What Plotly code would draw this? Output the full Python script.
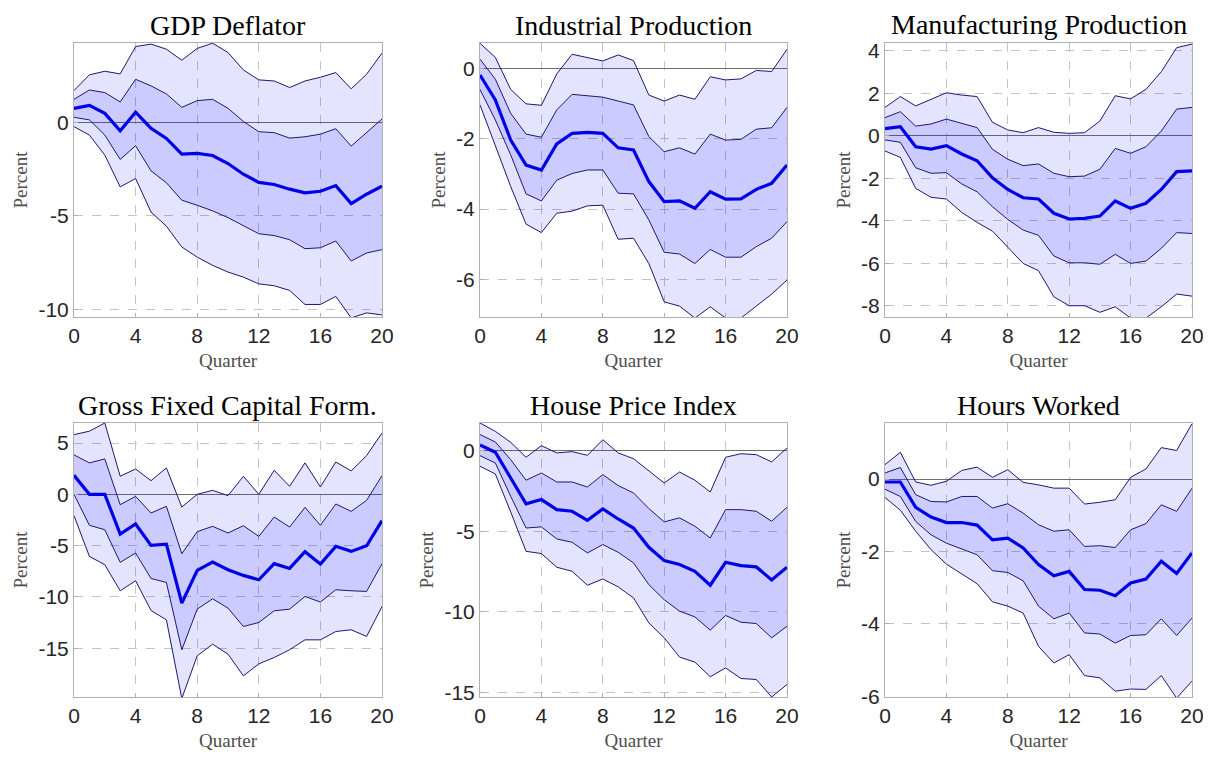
import plotly.graph_objects as go
from plotly.subplots import make_subplots

QUARTERS = list(range(21))

# GDP Deflator
gdp_hi90 = [1.70, 2.54, 2.73, 2.59, 4.05, 4.18, 3.91, 3.32, 3.95, 4.23, 3.73, 2.80, 2.27, 2.21, 1.86, 2.21, 2.41, 2.66, 1.79, 2.57, 3.70]
gdp_hi68 = [1.23, 1.73, 1.59, 1.09, 2.30, 1.95, 1.52, 0.80, 1.16, 1.23, 0.75, 0.05, -0.50, -0.55, -0.84, -0.77, -0.63, -0.34, -1.27, -0.55, 0.18]
gdp_med = [0.75, 0.91, 0.48, -0.45, 0.54, -0.32, -0.86, -1.70, -1.66, -1.77, -2.20, -2.77, -3.21, -3.32, -3.57, -3.77, -3.68, -3.38, -4.34, -3.84, -3.41]
gdp_lo68 = [0.27, 0.13, -0.68, -1.98, -1.25, -2.59, -3.23, -4.16, -4.43, -4.73, -5.09, -5.52, -5.95, -6.05, -6.27, -6.75, -6.70, -6.34, -7.41, -6.98, -6.80]
gdp_lo90 = [-0.23, -0.68, -1.75, -3.45, -3.00, -4.79, -5.55, -6.66, -7.20, -7.64, -8.00, -8.27, -8.63, -8.73, -8.98, -9.73, -9.73, -9.30, -10.45, -10.18, -10.29]

# Industrial Production
ip_hi90 = [0.71, 0.31, -0.60, -1.01, -1.05, -0.16, 0.40, 0.30, 0.21, 0.38, 0.22, -0.76, -0.93, -0.76, -0.88, -0.24, -0.33, -0.30, -0.06, -0.09, 0.54]
ip_hi68 = [0.26, -0.31, -1.28, -1.87, -1.96, -1.18, -0.74, -0.78, -0.82, -0.93, -1.04, -1.94, -2.37, -2.26, -2.44, -1.87, -2.04, -2.02, -1.73, -1.69, -1.11]
ip_med = [-0.19, -0.90, -2.04, -2.75, -2.89, -2.15, -1.85, -1.82, -1.85, -2.26, -2.32, -3.22, -3.79, -3.77, -3.98, -3.51, -3.72, -3.71, -3.44, -3.27, -2.75]
ip_lo68 = [-0.60, -1.47, -2.46, -3.57, -3.77, -3.18, -2.99, -2.89, -2.89, -3.55, -3.57, -4.31, -5.23, -5.28, -5.55, -5.15, -5.37, -5.37, -5.07, -4.83, -4.36]
ip_lo90 = [-1.04, -2.23, -3.36, -4.43, -4.67, -4.12, -4.06, -3.91, -3.89, -4.86, -4.83, -5.55, -6.64, -6.76, -7.10, -6.78, -7.10, -7.10, -6.76, -6.42, -6.02]

# Manufacturing Production
mp_hi90 = [1.33, 1.84, 1.40, 1.71, 2.02, 1.91, 1.84, 0.63, 0.27, 0.14, 0.38, 0.16, 0.11, 0.14, 0.69, 1.88, 1.73, 2.18, 3.01, 4.14, 4.31]
mp_hi68 = [0.85, 1.13, 0.45, 0.55, 0.78, 0.58, 0.38, -0.64, -1.11, -1.41, -1.33, -1.77, -1.93, -1.90, -1.58, -0.60, -0.83, -0.52, 0.22, 1.25, 1.33]
mp_med = [0.33, 0.42, -0.52, -0.63, -0.47, -0.86, -1.18, -1.98, -2.53, -2.92, -2.98, -3.65, -3.92, -3.89, -3.78, -3.07, -3.42, -3.18, -2.53, -1.69, -1.66]
mp_lo68 = [-0.20, -0.31, -1.51, -1.77, -1.74, -2.27, -2.64, -3.34, -3.94, -4.44, -4.69, -5.66, -5.98, -5.98, -6.05, -5.58, -6.01, -5.90, -5.30, -4.56, -4.60]
mp_lo90 = [-0.72, -1.02, -2.48, -2.90, -2.98, -3.61, -4.08, -4.49, -5.25, -6.01, -6.35, -7.58, -8.00, -8.00, -8.31, -8.05, -8.58, -8.58, -8.05, -7.45, -7.55]

# Gross Fixed Capital Formation
gf_hi90 = [5.82, 6.15, 6.95, 1.76, 2.47, 1.33, 2.57, -1.24, 0.00, 0.39, -0.13, 1.76, 0.00, 2.34, 0.78, 3.06, 0.72, 3.15, 2.28, 3.77, 5.98]
gf_hi68 = [3.84, 3.06, 3.45, -1.01, -0.20, -1.82, -1.17, -5.79, -3.64, -3.12, -3.77, -3.06, -4.10, -2.21, -3.19, -1.27, -3.02, -0.94, -1.66, -0.59, 1.82]
gf_med = [1.85, 0.00, 0.00, -3.87, -2.89, -4.98, -4.85, -10.60, -7.41, -6.60, -7.35, -7.90, -8.33, -6.76, -7.22, -5.59, -6.80, -5.07, -5.56, -5.01, -2.57]
gf_lo68 = [0.00, -3.02, -3.45, -6.63, -5.72, -8.20, -8.59, -15.15, -11.19, -10.18, -11.09, -12.88, -12.49, -11.35, -11.19, -9.95, -10.50, -9.30, -9.40, -9.46, -6.76]
gf_lo90 = [-2.08, -6.05, -6.86, -9.40, -8.42, -11.32, -12.23, -19.90, -15.74, -14.60, -15.58, -17.69, -16.52, -15.90, -15.15, -14.18, -14.18, -13.37, -13.20, -13.85, -10.93]

# House Price Index
hp_hi90 = [1.74, 1.22, 0.54, -0.39, 0.33, -0.12, -0.04, -0.27, 0.70, -0.12, -0.48, -1.26, -1.99, -1.31, -1.82, -2.55, -0.39, -0.17, -0.23, -0.68, 0.19]
hp_hi68 = [1.02, 0.56, -0.54, -1.82, -1.37, -1.93, -1.93, -2.24, -1.47, -2.15, -2.61, -3.58, -4.41, -4.16, -4.68, -5.41, -3.65, -3.65, -3.75, -4.37, -3.50]
hp_med = [0.37, -0.08, -1.68, -3.29, -3.02, -3.65, -3.75, -4.31, -3.60, -4.23, -4.79, -5.99, -6.82, -7.06, -7.48, -8.35, -6.92, -7.13, -7.21, -8.02, -7.23]
hp_lo68 = [-0.29, -0.75, -2.82, -4.79, -4.72, -5.47, -5.68, -6.34, -5.82, -6.30, -6.96, -8.31, -9.25, -9.96, -10.32, -11.14, -10.23, -10.65, -10.73, -11.62, -10.90]
hp_lo90 = [-0.95, -1.43, -3.79, -6.24, -6.38, -7.23, -7.48, -8.35, -7.96, -8.45, -9.14, -10.69, -11.62, -12.82, -13.13, -14.04, -13.49, -14.15, -14.21, -15.30, -14.52]

# Hours Worked
hw_hi90 = [0.40, 0.74, -0.08, -0.17, -0.06, 0.24, 0.33, 0.05, 0.26, -0.09, -0.16, -0.25, -0.25, -0.69, -0.64, -0.57, 0.05, 0.28, 0.87, 0.79, 1.53]
hw_hi68 = [0.17, 0.32, -0.43, -0.62, -0.63, -0.48, -0.48, -0.80, -0.68, -0.94, -1.26, -1.44, -1.40, -1.86, -1.84, -1.89, -1.40, -1.23, -0.71, -0.89, -0.25]
hw_med = [-0.08, -0.08, -0.78, -1.05, -1.20, -1.20, -1.27, -1.68, -1.63, -1.90, -2.36, -2.67, -2.55, -3.05, -3.07, -3.22, -2.87, -2.76, -2.27, -2.61, -2.04]
hw_lo68 = [-0.28, -0.48, -1.17, -1.54, -1.77, -1.93, -2.09, -2.53, -2.58, -2.81, -3.51, -3.86, -3.70, -4.25, -4.28, -4.53, -4.32, -4.30, -3.86, -4.32, -3.84]
hw_lo90 = [-0.51, -0.86, -1.44, -1.95, -2.35, -2.62, -2.89, -3.39, -3.51, -3.70, -4.62, -5.08, -4.85, -5.43, -5.49, -5.86, -5.80, -5.81, -5.43, -6.05, -5.58]

TITLES = ["GDP Deflator", "Industrial Production", "Manufacturing Production",
          "Gross Fixed Capital Form.", "House Price Index", "Hours Worked"]
BANDS = [
    (gdp_lo90, gdp_lo68, gdp_med, gdp_hi68, gdp_hi90),
    (ip_lo90, ip_lo68, ip_med, ip_hi68, ip_hi90),
    (mp_lo90, mp_lo68, mp_med, mp_hi68, mp_hi90),
    (gf_lo90, gf_lo68, gf_med, gf_hi68, gf_hi90),
    (hp_lo90, hp_lo68, hp_med, hp_hi68, hp_hi90),
    (hw_lo90, hw_lo68, hw_med, hw_hi68, hw_hi90),
]
Y_RANGES = [[-10.4, 4.24], [-7.07, 0.72], [-8.53, 4.36], [-19.75, 6.95], [-15.3, 1.74], [-6.02, 1.55]]
Y_TICKS = [[-10, -5, 0], [-6, -4, -2, 0], [-8, -6, -4, -2, 0, 2, 4],
           [-15, -10, -5, 0, 5], [-15, -10, -5, 0], [-6, -4, -2, 0]]
X_TICKS = [0, 4, 8, 12, 16, 20]

# the page body has an 8px margin, so the figure is sized to fit inside the window
W, H, OFF = 1203, 749, 8
X_DOMAINS = [[(74 - OFF) / W, (382 - OFF) / W], [(480 - OFF) / W, (787 - OFF) / W],
             [(885 - OFF) / W, (1192 - OFF) / W]]
Y_DOMAINS = [[1 - (317 - OFF) / H, 1 - (43 - OFF) / H], [1 - (697 - OFF) / H, 1 - (423 - OFF) / H]]

BAND_FILL = "rgba(0,0,255,0.105)"
EDGE = "rgb(25,25,115)"
MEDIAN = "rgb(0,0,230)"
SERIF = "Liberation Serif, Times New Roman, serif"
SANS = "Liberation Sans, Arial, sans-serif"

fig = make_subplots(rows=2, cols=3)

for i, (lo90, lo68, med, hi68, hi90) in enumerate(BANDS):
    row, col = i // 3 + 1, i % 3 + 1
    edge = dict(color=EDGE, width=1)
    fig.add_trace(go.Scatter(x=QUARTERS, y=lo90, mode="lines", line=edge, showlegend=False), row=row, col=col)
    fig.add_trace(go.Scatter(x=QUARTERS, y=hi90, mode="lines", line=edge, fill="tonexty",
                             fillcolor=BAND_FILL, showlegend=False), row=row, col=col)
    fig.add_trace(go.Scatter(x=QUARTERS, y=lo68, mode="lines", line=edge, showlegend=False), row=row, col=col)
    fig.add_trace(go.Scatter(x=QUARTERS, y=hi68, mode="lines", line=edge, fill="tonexty",
                             fillcolor=BAND_FILL, showlegend=False), row=row, col=col)
    fig.add_trace(go.Scatter(x=QUARTERS, y=med, mode="lines", line=dict(color=MEDIAN, width=3.2),
                             showlegend=False), row=row, col=col)

    fig.update_xaxes(domain=X_DOMAINS[col - 1], range=[0, 20], tickvals=X_TICKS,
                     ticktext=[str(t) for t in X_TICKS],
                     title=dict(text="Quarter", font=dict(family=SERIF, size=19, color="#4d4d4d"), standoff=7),
                     row=row, col=col)
    fig.update_yaxes(domain=Y_DOMAINS[row - 1], range=Y_RANGES[i], tickvals=Y_TICKS[i],
                     ticktext=[str(t) for t in Y_TICKS[i]],
                     title=dict(text="Percent", font=dict(family=SERIF, size=19, color="#4d4d4d"), standoff=5),
                     zeroline=True, zerolinecolor="#6e6e6e", zerolinewidth=1,
                     row=row, col=col)

    xref = "x" if i == 0 else f"x{i + 1}"
    yref = "y" if i == 0 else f"y{i + 1}"
    fig.add_annotation(text=TITLES[i], xref=f"{xref} domain", yref=f"{yref} domain",
                       x=0.5, y=1.0, xanchor="center", yanchor="bottom", yshift=1.5, borderpad=0,
                       showarrow=False, font=dict(family=SERIF, size=28, color="#000000"))

fig.update_xaxes(showline=True, mirror=True, linecolor="#b0b0b0", linewidth=1,
                 showgrid=True, gridcolor="#c4c4c4", griddash="dash", gridwidth=1,
                 zeroline=False, ticks="inside", ticklen=4, tickcolor="#b0b0b0",
                 automargin=False,
                 tickfont=dict(family=SANS, size=21, color="#262626"))
fig.update_yaxes(showline=True, mirror=True, linecolor="#b0b0b0", linewidth=1,
                 showgrid=True, gridcolor="#c4c4c4", griddash="dash", gridwidth=1,
                 ticks="inside", ticklen=4, tickcolor="#b0b0b0",
                 automargin=False,
                 tickfont=dict(family=SANS, size=21, color="#262626"))

fig.update_layout(width=W, height=H, margin=dict(l=0, r=0, t=0, b=0, autoexpand=False),
                  paper_bgcolor="white", plot_bgcolor="white", showlegend=False)

fig.write_html("out.html")
